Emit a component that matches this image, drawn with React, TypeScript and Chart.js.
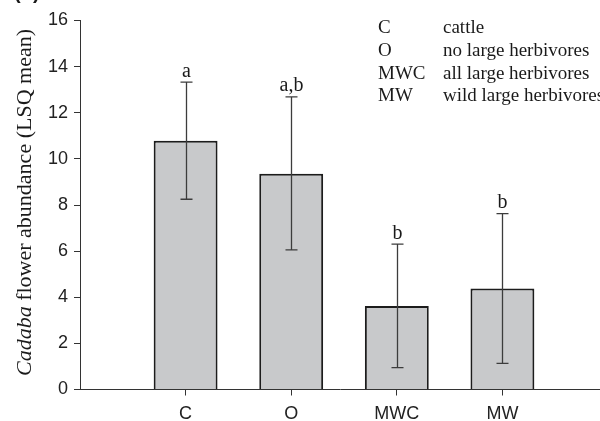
import { useEffect, useRef } from 'react';
import { Chart, registerables } from 'chart.js';

Chart.register(...registerables);

const categories = ['C', 'O', 'MWC', 'MW'];
const means = [10.79, 9.36, 3.62, 4.38];
const errHigh = [13.33, 12.69, 6.3, 7.63];
const errLow = [8.25, 6.05, 0.95, 1.13];
const groupLetters = ['a', 'a,b', 'b', 'b'];
const legendCodes = ['C', 'O', 'MWC', 'MW'];
const legendNames = ['cattle', 'no large herbivores', 'all large herbivores', 'wild large herbivores'];
const yMin = 0;
const yMax = 16;
const yStep = 2;

const SANS = '"Liberation Sans", Arial, sans-serif';
const SERIF = '"Liberation Serif", "Times New Roman", serif';

const overlayPlugin = {
  id: 'overlay',
  afterDatasetsDraw(chart: any) {
    const { ctx } = chart;
    const xs = chart.scales.x;
    const ys = chart.scales.y;
    ctx.save();
    ctx.strokeStyle = '#3c3c3c';
    ctx.lineWidth = 1.3;
    ctx.fillStyle = '#1a1a1a';
    ctx.font = `20px ${SERIF}`;
    ctx.textAlign = 'center';
    ctx.textBaseline = 'alphabetic';
    means.forEach((_m, i) => {
      const px = Math.round(xs.getPixelForValue(i + 1)) + 0.5;
      const top = ys.getPixelForValue(errHigh[i]);
      const bot = ys.getPixelForValue(errLow[i]);
      ctx.beginPath();
      ctx.moveTo(px, top);
      ctx.lineTo(px, bot);
      ctx.moveTo(px - 6, top);
      ctx.lineTo(px + 6, top);
      ctx.moveTo(px - 6, bot);
      ctx.lineTo(px + 6, bot);
      ctx.stroke();
      ctx.fillText(groupLetters[i], px, top - 5.5);
    });
    ctx.restore();
  },
  afterDraw(chart: any) {
    const { ctx } = chart;
    ctx.save();
    ctx.fillStyle = '#1a1a1a';
    ctx.font = `19px ${SERIF}`;
    ctx.textAlign = 'left';
    ctx.textBaseline = 'alphabetic';
    legendCodes.forEach((code, i) => {
      const by = 33.3 + i * 22.6;
      ctx.fillText(code, 378, by);
      ctx.fillText(legendNames[i], 443, by);
    });
    ctx.save();
    ctx.translate(31, 202.5);
    ctx.rotate(-Math.PI / 2);
    const it = `italic 22px ${SERIF}`;
    const rg = `22px ${SERIF}`;
    const p1 = 'Cadaba';
    const p2 = ' flower abundance (LSQ mean)';
    ctx.font = it;
    const w1 = ctx.measureText(p1).width;
    ctx.font = rg;
    const w2 = ctx.measureText(p2).width;
    const start = -(w1 + w2) / 2;
    ctx.font = it;
    ctx.fillText(p1, start, 0);
    ctx.font = rg;
    ctx.fillText(p2, start + w1, 0);
    ctx.restore();
    ctx.font = `bold 20px ${SANS}`;
    ctx.fillText('(b)', 14, -1);
    ctx.restore();
  },
};

export default function App() {
  const ref = useRef<HTMLCanvasElement | null>(null);
  useEffect(() => {
    document.body.style.margin = '0';
    if (!ref.current) return;
    const chart = new Chart(ref.current, {
      type: 'bar',
      data: {
        datasets: [
          {
            data: means.map((v, i) => ({ x: i + 1, y: v })),
            backgroundColor: '#c8c9cb',
            borderColor: '#1c1c1c',
            borderWidth: 2,
            barPercentage: 0.605,
            categoryPercentage: 1,
          } as any,
        ],
      },
      options: {
        responsive: false,
        animation: false,
        devicePixelRatio: 1,
        layout: { padding: { top: 20.5, left: 0, right: 0, bottom: 0 } },
        plugins: { legend: { display: false }, tooltip: { enabled: false } },
        scales: {
          x: {
            type: 'linear',
            min: 0,
            max: 4.924,
            offset: false,
            afterBuildTicks: (scale: any) => {
              scale.ticks = categories.map((_c, i) => ({ value: i + 1 }));
            },
            afterFit: (scale: any) => {
              scale.height = 31.5;
            },
            grid: {
              offset: false,
              drawOnChartArea: false,
              drawTicks: true,
              tickLength: 6,
              color: '#333',
            },
            border: { display: true, color: '#333', width: 1 },
            ticks: {
              autoSkip: false,
              maxRotation: 0,
              padding: 8,
              color: '#222',
              font: { family: SANS, size: 18 },
              callback: (v: any) => categories[Number(v) - 1] ?? '',
            },
          },
          y: {
            min: yMin,
            max: yMax,
            afterFit: (scale: any) => {
              scale.width = 80;
            },
            grid: {
              drawOnChartArea: false,
              drawTicks: true,
              tickLength: 6,
              color: '#333',
            },
            border: { display: true, color: '#333', width: 1 },
            ticks: {
              stepSize: yStep,
              padding: 6,
              color: '#222',
              font: { family: SANS, size: 18 },
            },
          },
        },
      },
      plugins: [overlayPlugin],
    });
    return () => chart.destroy();
  }, []);
  return <canvas ref={ref} width={600} height={421} style={{ display: 'block' }} />;
}
